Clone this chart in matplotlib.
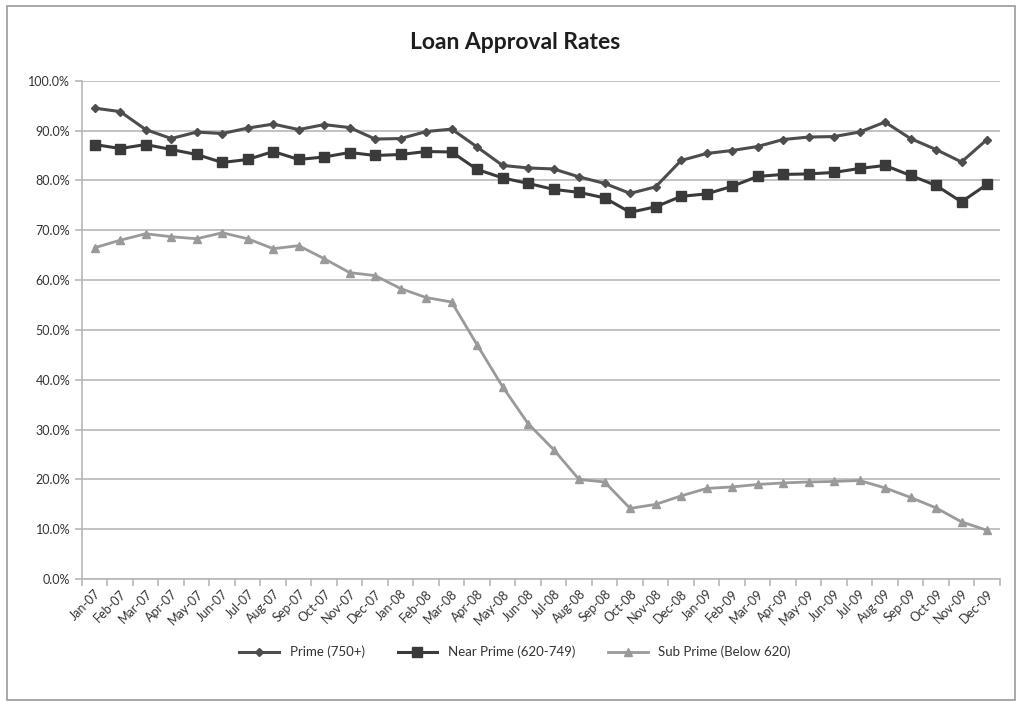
import matplotlib.pyplot as plt
from matplotlib.patches import Rectangle
from matplotlib.ticker import PercentFormatter, FixedLocator, NullFormatter

plt.rcParams['font.family'] = ['Lato', 'DejaVu Sans']

months = ['Jan-07', 'Feb-07', 'Mar-07', 'Apr-07', 'May-07', 'Jun-07', 'Jul-07', 'Aug-07',
          'Sep-07', 'Oct-07', 'Nov-07', 'Dec-07', 'Jan-08', 'Feb-08', 'Mar-08', 'Apr-08',
          'May-08', 'Jun-08', 'Jul-08', 'Aug-08', 'Sep-08', 'Oct-08', 'Nov-08', 'Dec-08',
          'Jan-09', 'Feb-09', 'Mar-09', 'Apr-09', 'May-09', 'Jun-09', 'Jul-09', 'Aug-09',
          'Sep-09', 'Oct-09', 'Nov-09', 'Dec-09']

prime = [94.5, 93.8, 90.2, 88.4, 89.7, 89.4, 90.5, 91.3, 90.2, 91.2, 90.6, 88.3,
         88.4, 89.8, 90.3, 86.7, 83.0, 82.5, 82.3, 80.7, 79.4, 77.4, 78.7, 84.0,
         85.4, 86.0, 86.8, 88.2, 88.7, 88.8, 89.7, 91.7, 88.4, 86.2, 83.7, 88.2]

near_prime = [87.2, 86.4, 87.2, 86.2, 85.2, 83.6, 84.2, 85.8, 84.2, 84.7, 85.6, 85.0,
              85.2, 85.8, 85.7, 82.2, 80.5, 79.4, 78.2, 77.6, 76.5, 73.6, 74.7, 76.8,
              77.3, 78.8, 80.8, 81.2, 81.3, 81.6, 82.4, 83.0, 81.0, 79.0, 75.7, 79.2]

sub_prime = [66.5, 68.0, 69.3, 68.7, 68.3, 69.5, 68.3, 66.3, 66.9, 64.3, 61.5, 60.9,
             58.3, 56.5, 55.6, 47.0, 38.6, 31.2, 26.0, 20.0, 19.5, 14.2, 15.0, 16.7,
             18.2, 18.5, 19.0, 19.3, 19.5, 19.6, 19.8, 18.3, 16.4, 14.3, 11.5, 9.8]

fig = plt.figure(figsize=(10.16, 7.02), dpi=100)
ax = fig.add_axes([0.0807, 0.175, 0.9033, 0.710])

x = list(range(len(months)))
ax.plot(x, prime, color='#4d4d4d', lw=2.2, marker='D', ms=4.5, label='Prime (750+)')
ax.plot(x, near_prime, color='#3a3a3a', lw=2.2, marker='s', ms=7, label='Near Prime (620-749)')
ax.plot(x, sub_prime, color='#9a9a9a', lw=2.0, marker='^', ms=5.5, label='Sub Prime (Below 620)')

ax.set_xlim(-0.5, len(months) - 0.5)
ax.set_ylim(0, 100)
ax.set_yticks(range(0, 101, 10))
ax.yaxis.set_major_formatter(PercentFormatter(decimals=1))
ax.yaxis.grid(True, color='#b8b8b8', lw=1.2)
ax.set_axisbelow(True)

# month labels, ticks sit between categories like Excel
ax.set_xticks(x)
ax.set_xticklabels(months, rotation=45, ha='right', rotation_mode='anchor', fontsize=9, color='#333333')
ax.tick_params(axis='x', length=0, pad=6)
ax.xaxis.set_minor_locator(FixedLocator([i - 0.5 for i in range(len(months) + 1)]))
ax.xaxis.set_minor_formatter(NullFormatter())
ax.tick_params(axis='x', which='minor', length=5, color='#b8b8b8', width=1.2)
ax.tick_params(axis='y', length=5, color='#b8b8b8', width=1.2, labelsize=9, labelcolor='#333333')

for s in ['top', 'right']:
    ax.spines[s].set_visible(False)
for s in ['left', 'bottom']:
    ax.spines[s].set_color('#b8b8b8')
    ax.spines[s].set_linewidth(1.2)

fig.text(0.507, 0.94, 'Loan Approval Rates', ha='center', va='center',
         fontsize=16.5, fontweight='bold', color='#1e1e1e')

fig.legend(loc='center', bbox_to_anchor=(0.507, 0.071), ncol=3, frameon=False,
           fontsize=9.5, handlelength=3, columnspacing=2.5, labelcolor='#333333')

fig.patches.append(Rectangle((7 / 1016, 2 / 702), 1008 / 1016, 694 / 702,
                             transform=fig.transFigure, fill=False,
                             edgecolor='#9a9a9a', lw=1.2))

fig.savefig('out.png', dpi=100)
